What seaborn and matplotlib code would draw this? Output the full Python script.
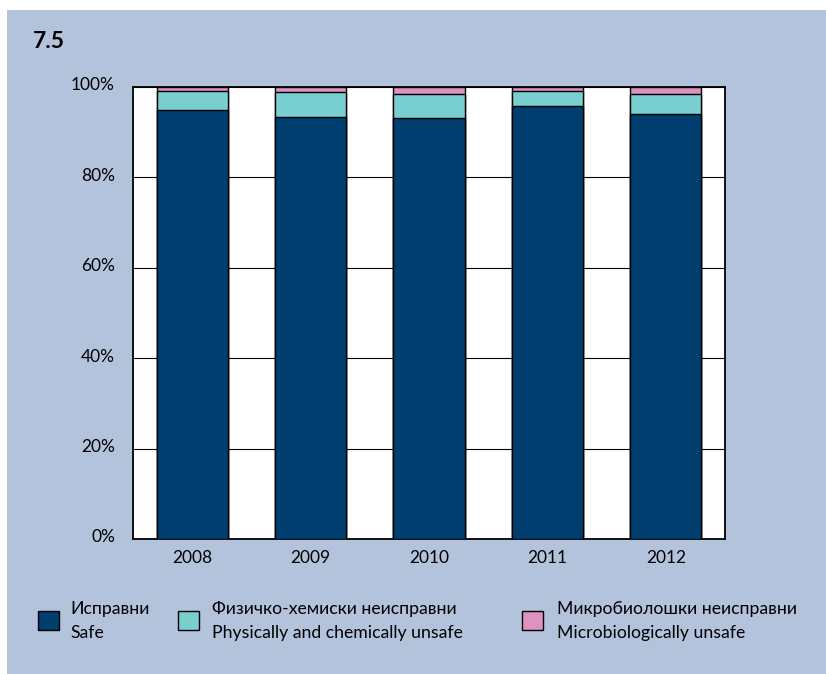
import matplotlib
matplotlib.use("Agg")
import matplotlib.pyplot as plt
from matplotlib.patches import Rectangle
from matplotlib.transforms import ScaledTranslation
import numpy as np
import pandas as pd
import seaborn as sns

years = ["2008", "2009", "2010", "2011", "2012"]
safe = [95.0, 93.4, 93.2, 95.9, 94.0]
phys_chem_unsafe = [4.1, 5.4, 5.2, 3.3, 4.4]
micro_unsafe = [0.9, 1.2, 1.6, 0.8, 1.6]

series_labels = [
    "Исправни\nSafe",
    "Физичко-хемиски неисправни\nPhysically and chemically unsafe",
    "Микробиолошки неисправни\nMicrobiologically unsafe",
]
colors = ["#003f6f", "#79cfcf", "#dd92c0"]
yticks = [0, 20, 40, 60, 80, 100]

sns.set_theme(style="white")
plt.rcParams["font.family"] = ["Lato", "DejaVu Sans"]

df = pd.DataFrame({
    "year": years,
    "safe": safe,
    "phys": phys_chem_unsafe,
    "micro": micro_unsafe,
})
df["top_phys"] = df["safe"] + df["phys"]
df["top_micro"] = df["top_phys"] + df["micro"]

fig = plt.figure(figsize=(8.26, 6.74), dpi=100)
fig.patch.set_facecolor("white")
panel_bg = "#b4c3dc"
fig.patches.append(Rectangle((7 / 826, 0), 819 / 826, 664 / 674,
                             transform=fig.transFigure, facecolor=panel_bg,
                             edgecolor="none", zorder=-5))

ax = fig.add_axes([133 / 826, 135 / 674, 592 / 826, 452 / 674])
ax.set_facecolor("white")
ax.set_zorder(1)

# stacked bars: draw cumulative totals from the top segment down
for col, color in zip(["top_micro", "top_phys", "safe"], colors[::-1]):
    sns.barplot(data=df, x="year", y=col, color=color, width=0.6,
                edgecolor="black", linewidth=1.0, saturation=1, ax=ax,
                zorder=3)

ax.set_xlim(-0.5, len(years) - 0.5)
ax.set_ylim(0, 100)
ax.set_yticks(yticks)
ax.set_yticklabels([f"{v}%" for v in yticks])
ax.set_xlabel("")
ax.set_ylabel("")
ax.grid(axis="y", color="black", linewidth=0.8, zorder=0)
ax.set_axisbelow(True)
for s in ax.spines.values():
    s.set_color("black")
    s.set_linewidth(1.3)
ax.tick_params(axis="both", length=0, labelsize=12.5, colors="black")
ax.tick_params(axis="y", pad=13)
ax.tick_params(axis="x", pad=8)
# y labels sit slightly above their gridlines
lift = ScaledTranslation(0, 3 / 100, fig.dpi_scale_trans)
for lbl in ax.get_yticklabels():
    lbl.set_transform(lbl.get_transform() + lift)

fig.text(33 / 826, 1 - 42 / 674, "7.5", fontsize=16.5, fontweight="bold",
         va="center", ha="left", color="black", zorder=3)

# legend
legend_pos = [(38, 70), (178, 212), (522, 557)]
for (sx, tx), color, label in zip(legend_pos, colors, series_labels):
    fig.patches.append(Rectangle((sx / 826, 1 - 630 / 674), 21 / 826, 19 / 674,
                                 transform=fig.transFigure, facecolor=color,
                                 edgecolor="black", linewidth=1.0, zorder=2))
    fig.text(tx / 826, 1 - 621 / 674, label, fontsize=12.7, va="center",
             ha="left", color="black", linespacing=1.55, zorder=3)

fig.savefig("out.png", dpi=100, facecolor=fig.get_facecolor())
